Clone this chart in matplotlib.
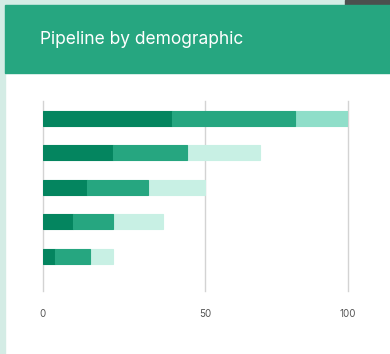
import numpy as np
import matplotlib.pyplot as plt
from matplotlib.patches import Rectangle

plt.rcParams['font.family'] = ['Inter', 'DejaVu Sans']

# stacked segments, top row first
groups = ['A', 'B', 'C', 'D', 'E']
dark = [39, 20, 12, 8, 3]
mid = [42, 24, 19, 12, 10]
light = [19, 25, 19, 16, 7]
ticks = [0, 50, 100]

c_dark = '#04855f'
c_mid = '#26a680'
c_light = ['#8fdec9', '#c8f0e4', '#c8f0e4', '#c8f0e4', '#c8f0e4']


def fwd(v):
    v = np.asarray(v, dtype=float)
    return np.sign(v) * np.abs(v) ** 0.913


def inv(v):
    v = np.asarray(v, dtype=float)
    return np.sign(v) * np.abs(v) ** (1 / 0.913)


fig = plt.figure(figsize=(3.9, 3.54), dpi=100)
fig.patch.set_facecolor('white')

# page background strips, card and header
fig.patches.append(Rectangle((0, 0), 5 / 390, 1, transform=fig.transFigure,
                             color='#d4ece5', zorder=0))
fig.patches.append(Rectangle((0, 1 - 5 / 354), 1, 5 / 354, transform=fig.transFigure,
                             color='#d4ece5', zorder=0))
fig.patches.append(Rectangle((345 / 390, 1 - 5 / 354), 45 / 390, 5 / 354,
                             transform=fig.transFigure, color='#4b504e', zorder=1))
fig.patches.append(Rectangle((5 / 390, 1 - 73 / 354), 385 / 390, 68 / 354,
                             transform=fig.transFigure, color='#26a680', zorder=1))
fig.text(40 / 390, 1 - 39 / 354, 'Pipeline by demographic', color='white',
         fontsize=12.5, va='center', ha='left')

ax = fig.add_axes([43 / 390, 63 / 354, 305 / 390, 190 / 354])
ax.set_xscale('function', functions=(fwd, inv))

y = np.arange(len(groups))
h = 0.43
left2 = np.array(dark)
left3 = left2 + np.array(mid)
ax.barh(y, dark, height=h, color=c_dark, edgecolor=c_dark, linewidth=0.8, zorder=3)
ax.barh(y, mid, left=left2, height=h, color=c_mid, edgecolor=c_mid, linewidth=0.8, zorder=3)
ax.barh(y, light, left=left3, height=h, color=c_light, edgecolor=c_light, linewidth=0.8,
        zorder=2)

ax.set_xlim(0, 100)
ax.set_ylim(5.0, -0.5)
ax.set_xticks(ticks)
ax.set_xticklabels([str(t) for t in ticks])
ax.set_yticks([])
ax.grid(axis='x', color='#d3d3d3', linewidth=1, zorder=0)
for gl in ax.get_xgridlines():
    gl.set_clip_on(False)
ax.tick_params(axis='x', length=0, pad=13, labelsize=7, labelcolor='#555555')
for s in ax.spines.values():
    s.set_visible(False)

fig.savefig('out.png', dpi=100)
